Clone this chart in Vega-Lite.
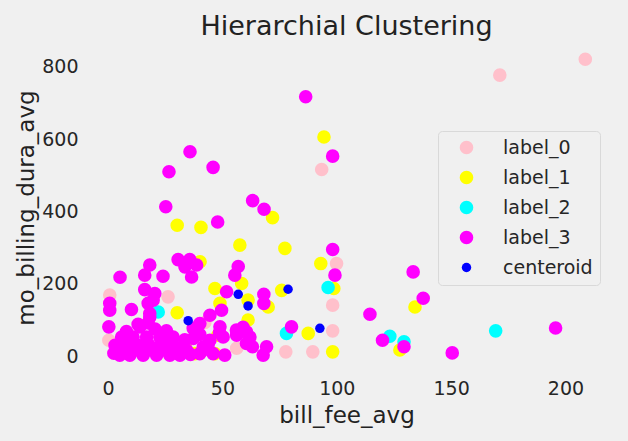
{
  "$schema": "https://vega.github.io/schema/vega-lite/v6.json",
  "width": 527,
  "height": 327,
  "autosize": {"type": "none"},
  "padding": {"left": 83, "top": 44, "right": 18, "bottom": 70},
  "background": "#f0f0f0",
  "title": {"text": "Hierarchial Clustering", "font": "DejaVu Sans", "fontSize": 27, "fontWeight": "normal", "color": "#222222", "anchor": "middle", "offset": 3},
  "data": {"values": [
    {"x": 208.7, "y": 821, "s": "label_0"},
    {"x": 171.3, "y": 777, "s": "label_0"},
    {"x": 93.4, "y": 516, "s": "label_0"},
    {"x": 99.9, "y": 256, "s": "label_0"},
    {"x": 98.2, "y": 141, "s": "label_0"},
    {"x": 98.2, "y": 70, "s": "label_0"},
    {"x": 77.7, "y": 12, "s": "label_0"},
    {"x": 89.5, "y": 12, "s": "label_0"},
    {"x": 0.7, "y": 169, "s": "label_0"},
    {"x": 0.3, "y": 44, "s": "label_0"},
    {"x": 26.2, "y": 164, "s": "label_0"},
    {"x": 56.2, "y": 22, "s": "label_0"},
    {"x": 42.3, "y": 93, "s": "label_0"},
    {"x": 94.4, "y": 606, "s": "label_1"},
    {"x": 71.9, "y": 383, "s": "label_1"},
    {"x": 30.2, "y": 362, "s": "label_1"},
    {"x": 40.6, "y": 356, "s": "label_1"},
    {"x": 57.6, "y": 307, "s": "label_1"},
    {"x": 77.3, "y": 298, "s": "label_1"},
    {"x": 93.0, "y": 256, "s": "label_1"},
    {"x": 40.2, "y": 261, "s": "label_1"},
    {"x": 46.7, "y": 187, "s": "label_1"},
    {"x": 58.4, "y": 201, "s": "label_1"},
    {"x": 75.9, "y": 182, "s": "label_1"},
    {"x": 98.7, "y": 187, "s": "label_1"},
    {"x": 134.2, "y": 136, "s": "label_1"},
    {"x": 30.2, "y": 120, "s": "label_1"},
    {"x": 61.2, "y": 155, "s": "label_1"},
    {"x": 61.2, "y": 100, "s": "label_1"},
    {"x": 48.9, "y": 146, "s": "label_1"},
    {"x": 70.0, "y": 136, "s": "label_1"},
    {"x": 87.5, "y": 63, "s": "label_1"},
    {"x": 98.2, "y": 12, "s": "label_1"},
    {"x": 127.6, "y": 17, "s": "label_1"},
    {"x": 33.6, "y": 30, "s": "label_1"},
    {"x": 37.9, "y": 7, "s": "label_1"},
    {"x": 46.7, "y": 7, "s": "label_1"},
    {"x": 48.0, "y": 58, "s": "label_1"},
    {"x": 169.5, "y": 70, "s": "label_2"},
    {"x": 96.2, "y": 190, "s": "label_2"},
    {"x": 78.0, "y": 63, "s": "label_2"},
    {"x": 123.2, "y": 55, "s": "label_2"},
    {"x": 129.4, "y": 40, "s": "label_2"},
    {"x": 21.9, "y": 122, "s": "label_2"},
    {"x": 86.4, "y": 717, "s": "label_3"},
    {"x": 98.2, "y": 553, "s": "label_3"},
    {"x": 35.8, "y": 565, "s": "label_3"},
    {"x": 45.9, "y": 522, "s": "label_3"},
    {"x": 26.6, "y": 510, "s": "label_3"},
    {"x": 25.2, "y": 413, "s": "label_3"},
    {"x": 47.9, "y": 371, "s": "label_3"},
    {"x": 63.2, "y": 430, "s": "label_3"},
    {"x": 68.2, "y": 406, "s": "label_3"},
    {"x": 98.2, "y": 295, "s": "label_3"},
    {"x": 99.2, "y": 224, "s": "label_3"},
    {"x": 133.4, "y": 233, "s": "label_3"},
    {"x": 137.8, "y": 160, "s": "label_3"},
    {"x": 114.5, "y": 116, "s": "label_3"},
    {"x": 195.7, "y": 78, "s": "label_3"},
    {"x": 150.5, "y": 9, "s": "label_3"},
    {"x": 120.0, "y": 44, "s": "label_3"},
    {"x": 129.4, "y": 26, "s": "label_3"},
    {"x": 80.2, "y": 81, "s": "label_3"},
    {"x": 68.1, "y": 171, "s": "label_3"},
    {"x": 68.1, "y": 146, "s": "label_3"},
    {"x": 69.3, "y": 26, "s": "label_3"},
    {"x": 67.8, "y": 3, "s": "label_3"},
    {"x": 5.2, "y": 218, "s": "label_3"},
    {"x": 18.2, "y": 252, "s": "label_3"},
    {"x": 16.0, "y": 224, "s": "label_3"},
    {"x": 24.0, "y": 221, "s": "label_3"},
    {"x": 30.6, "y": 267, "s": "label_3"},
    {"x": 35.7, "y": 267, "s": "label_3"},
    {"x": 38.7, "y": 252, "s": "label_3"},
    {"x": 36.5, "y": 219, "s": "label_3"},
    {"x": 33.6, "y": 247, "s": "label_3"},
    {"x": 16.0, "y": 184, "s": "label_3"},
    {"x": 20.4, "y": 173, "s": "label_3"},
    {"x": 19.7, "y": 155, "s": "label_3"},
    {"x": 17.5, "y": 146, "s": "label_3"},
    {"x": 0.7, "y": 146, "s": "label_3"},
    {"x": 0.7, "y": 127, "s": "label_3"},
    {"x": 10.2, "y": 129, "s": "label_3"},
    {"x": 18.2, "y": 118, "s": "label_3"},
    {"x": 18.2, "y": 108, "s": "label_3"},
    {"x": 0.3, "y": 81, "s": "label_3"},
    {"x": 17.5, "y": 92, "s": "label_3"},
    {"x": 13.9, "y": 81, "s": "label_3"},
    {"x": 13.1, "y": 88, "s": "label_3"},
    {"x": 20.5, "y": 75, "s": "label_3"},
    {"x": 8.0, "y": 68, "s": "label_3"},
    {"x": 25.5, "y": 70, "s": "label_3"},
    {"x": 5.9, "y": 53, "s": "label_3"},
    {"x": 10.9, "y": 53, "s": "label_3"},
    {"x": 16.8, "y": 53, "s": "label_3"},
    {"x": 22.6, "y": 53, "s": "label_3"},
    {"x": 28.4, "y": 53, "s": "label_3"},
    {"x": 33.5, "y": 45, "s": "label_3"},
    {"x": 3.0, "y": 30, "s": "label_3"},
    {"x": 8.0, "y": 30, "s": "label_3"},
    {"x": 13.0, "y": 30, "s": "label_3"},
    {"x": 18.0, "y": 30, "s": "label_3"},
    {"x": 23.0, "y": 30, "s": "label_3"},
    {"x": 28.5, "y": 30, "s": "label_3"},
    {"x": 6.6, "y": 17, "s": "label_3"},
    {"x": 12.4, "y": 17, "s": "label_3"},
    {"x": 18.2, "y": 17, "s": "label_3"},
    {"x": 24.1, "y": 17, "s": "label_3"},
    {"x": 29.9, "y": 17, "s": "label_3"},
    {"x": 34.3, "y": 17, "s": "label_3"},
    {"x": 2.5, "y": 8, "s": "label_3"},
    {"x": 5.1, "y": 3, "s": "label_3"},
    {"x": 9.5, "y": 3, "s": "label_3"},
    {"x": 15.3, "y": 3, "s": "label_3"},
    {"x": 21.2, "y": 3, "s": "label_3"},
    {"x": 27.0, "y": 3, "s": "label_3"},
    {"x": 31.4, "y": 3, "s": "label_3"},
    {"x": 36.0, "y": 5, "s": "label_3"},
    {"x": 26.3, "y": 35, "s": "label_3"},
    {"x": 32.4, "y": 26, "s": "label_3"},
    {"x": 37.2, "y": 49, "s": "label_3"},
    {"x": 41.6, "y": 26, "s": "label_3"},
    {"x": 56.9, "y": 248, "s": "label_3"},
    {"x": 55.4, "y": 224, "s": "label_3"},
    {"x": 51.8, "y": 178, "s": "label_3"},
    {"x": 49.6, "y": 127, "s": "label_3"},
    {"x": 44.5, "y": 113, "s": "label_3"},
    {"x": 40.1, "y": 90, "s": "label_3"},
    {"x": 37.2, "y": 77, "s": "label_3"},
    {"x": 48.9, "y": 81, "s": "label_3"},
    {"x": 40.1, "y": 60, "s": "label_3"},
    {"x": 44.5, "y": 44, "s": "label_3"},
    {"x": 50.3, "y": 53, "s": "label_3"},
    {"x": 48.7, "y": 65, "s": "label_3"},
    {"x": 56.2, "y": 58, "s": "label_3"},
    {"x": 56.1, "y": 72, "s": "label_3"},
    {"x": 59.0, "y": 80, "s": "label_3"},
    {"x": 60.5, "y": 67, "s": "label_3"},
    {"x": 62.0, "y": 53, "s": "label_3"},
    {"x": 60.5, "y": 35, "s": "label_3"},
    {"x": 63.1, "y": 26, "s": "label_3"},
    {"x": 51.0, "y": 3, "s": "label_3"},
    {"x": 45.9, "y": 7, "s": "label_3"},
    {"x": 41.6, "y": 17, "s": "label_3"},
    {"x": 43.7, "y": 30, "s": "label_3"},
    {"x": 40.1, "y": 7, "s": "label_3"},
    {"x": 78.7, "y": 185, "s": "centeroid"},
    {"x": 56.9, "y": 171, "s": "centeroid"},
    {"x": 61.2, "y": 139, "s": "centeroid"},
    {"x": 35.0, "y": 98, "s": "centeroid"},
    {"x": 92.6, "y": 77, "s": "centeroid"}
  ]},
  "mark": {"type": "point", "shape": "circle", "filled": true, "opacity": 1, "strokeWidth": 0},
  "encoding": {
    "x": {"field": "x", "type": "quantitative", "title": "bill_fee_avg",
          "scale": {"domain": [-11, 219.5], "nice": false, "zero": false},
          "axis": {"values": [0, 50, 100, 150, 200], "labelPadding": 8, "titlePadding": 6}},
    "y": {"field": "y", "type": "quantitative", "title": "mo_billing_dura_avg",
          "scale": {"domain": [-41, 863], "nice": false, "zero": false},
          "axis": {"values": [0, 200, 400, 600, 800], "labelPadding": 5, "titlePadding": 3}},
    "color": {"field": "s", "type": "nominal", "title": null,
              "scale": {"domain": ["label_0", "label_1", "label_2", "label_3", "centeroid"],
                        "range": ["#ffc0cb", "#ffff00", "#00ffff", "#ff00ff", "#0000ff"]},
              "legend": {"orient": "none", "legendX": 355, "legendY": 87, "title": null}},
    "size": {"field": "s", "type": "nominal", "title": null,
             "scale": {"type": "ordinal", "domain": ["label_0", "label_1", "label_2", "label_3", "centeroid"],
                       "range": [185, 185, 185, 185, 90]},
             "legend": {"orient": "none", "legendX": 355, "legendY": 87, "title": null}}
  },
  "config": {
    "view": {"stroke": null},
    "axis": {"grid": false, "domain": false, "ticks": false,
             "labelFont": "DejaVu Sans", "labelFontSize": 19, "labelColor": "#262626",
             "titleFont": "DejaVu Sans", "titleFontSize": 23, "titleFontWeight": "normal", "titleColor": "#222222"},
    "legend": {"fillColor": "#f0f0f0", "strokeColor": "#d9d9d9", "cornerRadius": 4, "padding": 7,
               "symbolOffset": 12, "labelOffset": 27, "rowPadding": 10,
               "labelFont": "DejaVu Sans", "labelFontSize": 19, "labelColor": "#262626",
               "symbolType": "circle", "symbolStrokeWidth": 0, "symbolOpacity": 1}
  }
}
